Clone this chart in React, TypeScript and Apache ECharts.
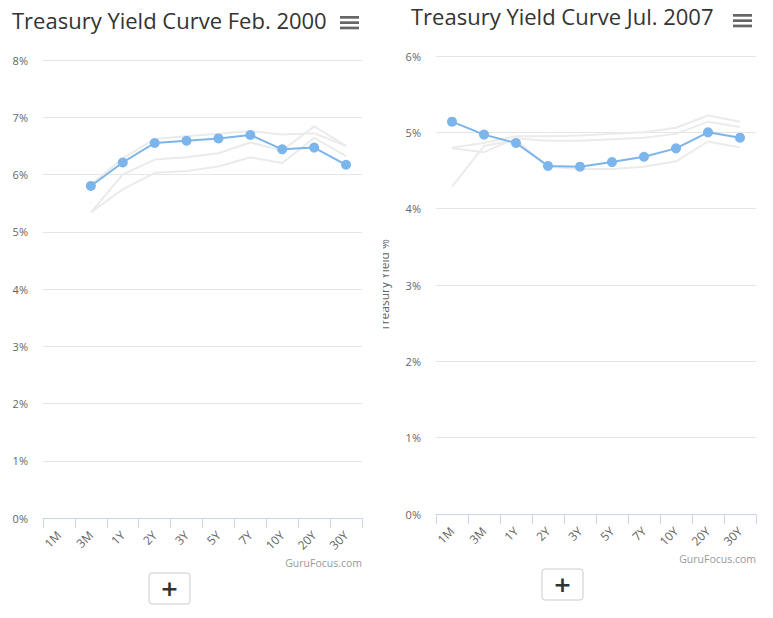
import React, { useEffect, useRef } from "react";
import * as echarts from "echarts";

const categories = ["1M", "3M", "1Y", "2Y", "3Y", "5Y", "7Y", "10Y", "20Y", "30Y"];

// Feb. 2000 (left chart)
const feb2000 = [null, 5.8, 6.21, 6.55, 6.59, 6.63, 6.69, 6.44, 6.47, 6.17];
const leftGrey1 = [null, 5.82, 6.28, 6.62, 6.67, 6.71, 6.76, 6.7, 6.72, 6.5];
const leftGrey2 = [null, 5.34, 6.0, 6.26, 6.3, 6.37, 6.56, 6.42, 6.84, 6.5];
const leftGrey3 = [null, 5.34, 5.74, 6.03, 6.06, 6.14, 6.3, 6.2, 6.64, 6.32];

// Jul. 2007 (right chart)
const jul2007 = [5.14, 4.97, 4.86, 4.56, 4.55, 4.61, 4.68, 4.79, 5.0, 4.93];
const rightGrey1 = [4.8, 4.86, 4.95, 4.95, 4.96, 4.98, 5.0, 5.06, 5.22, 5.14];
const rightGrey2 = [4.79, 4.74, 4.92, 4.89, 4.89, 4.91, 4.93, 4.98, 5.14, 5.07];
const rightGrey3 = [4.29, 4.82, 4.9, 4.55, 4.52, 4.52, 4.55, 4.62, 4.88, 4.8];

const leftTitle = "Treasury Yield Curve Feb. 2000";
const rightTitle = "Treasury Yield Curve Jul. 2007";
const yAxisName = "Treasury Yield %";
const credits = "GuruFocus.com";

const FONT = "'Open Sans', 'DejaVu Sans', sans-serif";

type Cfg = {
  title: string;
  titleX: number;
  titleY: number;
  main: (number | null)[];
  greys: (number | null)[][];
  yMax: number;
  grid: { left: number; right: number; top: number; bottom: number };
  menuX: number;
  menuY: number;
  creditX: number;
  creditY: number;
  btnX: number;
  btnY: number;
  showName: boolean;
};

function buildOption(c: Cfg): any {
  const greySeries = c.greys.map((g) => ({
    type: "line",
    data: g,
    symbol: "none",
    lineStyle: { color: "#ebebeb", width: 2 },
    itemStyle: { color: "#ebebeb" },
    silent: true,
    z: 1,
  }));
  const bars = [0, 1, 2].map((i) => ({
    type: "rect",
    shape: { x: c.menuX, y: c.menuY + i * 5.3, width: 19, height: 2.7 },
    style: { fill: "#666" },
  }));
  return {
    animation: false,
    title: {
      text: c.title,
      left: c.titleX,
      top: c.titleY,
      textStyle: { fontFamily: FONT, fontSize: 22, fontWeight: "normal", color: "#333" },
    },
    grid: { ...c.grid, containLabel: false, outerBoundsMode: "none" },
    xAxis: {
      type: "category",
      data: categories,
      boundaryGap: true,
      axisLine: { lineStyle: { color: "#ccd6eb", width: 1 } },
      axisTick: { show: true, length: 10, lineStyle: { color: "#ccd6eb" } },
      axisLabel: { rotate: 45, color: "#666", fontSize: 12, fontFamily: FONT, margin: 15, interval: 0 },
      splitLine: { show: false },
    },
    yAxis: {
      type: "value",
      min: 0,
      max: c.yMax,
      interval: 1,
      name: c.showName ? yAxisName : "",
      nameLocation: "middle",
      nameGap: 46,
      nameTextStyle: { color: "#666", fontSize: 12, fontFamily: FONT },
      axisLine: { show: false },
      axisTick: { show: false },
      axisLabel: { formatter: "{value}%", color: "#666", fontSize: 11, fontFamily: FONT, margin: 15 },
      splitLine: { lineStyle: { color: "#e6e6e6", width: 1 } },
    },
    series: [
      ...greySeries,
      {
        type: "line",
        data: c.main,
        symbol: "circle",
        symbolSize: 10,
        showSymbol: true,
        lineStyle: { color: "#7cb5ec", width: 2 },
        itemStyle: { color: "#7cb5ec" },
        z: 5,
      },
    ],
    graphic: [
      ...bars,
      {
        type: "text",
        x: c.creditX,
        y: c.creditY,
        style: { text: credits, fill: "#999", fontSize: 10.5, fontFamily: FONT, align: "right", verticalAlign: "middle" },
      },
      {
        type: "rect",
        shape: { x: c.btnX, y: c.btnY, width: 41, height: 31, r: 3 },
        style: { fill: "#fff", stroke: "#cccccc", lineWidth: 1 },
      },
      {
        type: "text",
        x: c.btnX + 20.5,
        y: c.btnY + 15.5,
        style: { text: "+", fill: "#333", fontSize: 22, fontWeight: "bold", fontFamily: "'DejaVu Sans', sans-serif", align: "center", verticalAlign: "middle" },
      },
    ],
  };
}

const leftCfg: Cfg = {
  title: leftTitle,
  titleX: 7,
  titleY: 4,
  main: feb2000,
  greys: [leftGrey1, leftGrey2, leftGrey3],
  yMax: 8,
  grid: { left: 43, right: 18, top: 60, bottom: 100 },
  menuX: 340,
  menuY: 16,
  creditX: 362,
  creditY: 563,
  btnX: 149,
  btnY: 573,
  showName: false,
};

const rightCfg: Cfg = {
  title: rightTitle,
  titleX: 23,
  titleY: 0,
  main: jul2007,
  greys: [rightGrey1, rightGrey2, rightGrey3],
  yMax: 6,
  grid: { left: 53, right: 17, top: 56, bottom: 104 },
  menuX: 350,
  menuY: 14,
  creditX: 373,
  creditY: 559,
  btnX: 159,
  btnY: 569,
  showName: true,
};

function Chart({ cfg, left, width }: { cfg: Cfg; left: number; width: number }) {
  const ref = useRef<HTMLDivElement>(null);
  useEffect(() => {
    if (!ref.current) return;
    const chart = echarts.init(ref.current, undefined, { renderer: "svg" });
    chart.setOption(buildOption(cfg));
    return () => chart.dispose();
  }, []);
  return (
    <div
      ref={ref}
      style={{ position: "absolute", left, top: 0, width, height: 618, overflow: "hidden", background: "#fff" }}
    />
  );
}

export default function App() {
  return (
    <div style={{ position: "absolute", left: 0, top: 0, width: 773, height: 618, background: "#fff" }}>
      <Chart cfg={leftCfg} left={0} width={380} />
      <Chart cfg={rightCfg} left={383} width={390} />
    </div>
  );
}
